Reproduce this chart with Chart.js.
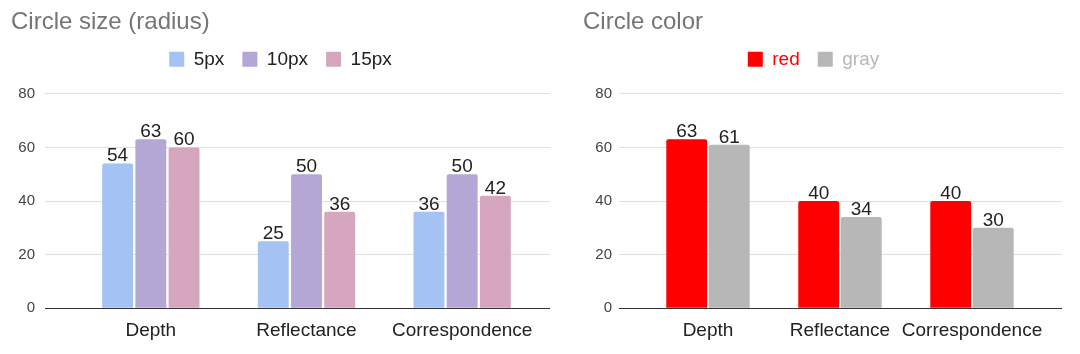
<!DOCTYPE html>
<html>
<head>
<meta charset="utf-8">
<script src="https://cdn.jsdelivr.net/npm/chart.js@4/dist/chart.umd.min.js"></script>
<style>
  body { margin: 0; background: #fff; }
  #wrap { position: relative; width: 1080px; height: 354px; }
  canvas { position: absolute; top: 0; }
  #sizeChart { left: 0; }
  #colorChart { left: 560px; }
</style>
</head>
<body>
<div id="wrap">
  <canvas id="sizeChart" width="560" height="354"></canvas>
  <canvas id="colorChart" width="520" height="354"></canvas>
</div>
<script>
const categories = ['Depth', 'Reflectance', 'Correspondence'];
const yTicks = [0, 20, 40, 60, 80];

// left chart: circle radius
const sizeLabels = ['5px', '10px', '15px'];
const sizeColors = ['#a4c2f4', '#b4a7d6', '#d5a6bd'];
const size5 = [54, 25, 36];
const size10 = [63, 50, 50];
const size15 = [60, 36, 42];

// right chart: circle colour
const colorLabels = ['red', 'gray'];
const colorColors = ['#ff0000', '#b7b7b7'];
const colorRed = [63, 40, 40];
const colorGray = [61, 34, 30];

Chart.defaults.font.family = '"Liberation Sans", Arial, Helvetica, sans-serif';

const gridColor = ctx => (ctx.tick && ctx.tick.value === 0) ? '#333333' : '#e0e0e0';

// numbers drawn on top of every bar
const barValueLabels = {
  id: 'barValueLabels',
  afterDatasetsDraw(chart) {
    const ctx = chart.ctx;
    ctx.save();
    ctx.font = '19px "Liberation Sans", Arial, sans-serif';
    ctx.fillStyle = '#222';
    ctx.textAlign = 'center';
    ctx.textBaseline = 'alphabetic';
    chart.data.datasets.forEach((ds, i) => {
      chart.getDatasetMeta(i).data.forEach((bar, j) => {
        ctx.fillText(ds.data[j], bar.x, bar.y - 2);
      });
    });
    ctx.restore();
  }
};

// extra room under the legend, and optional sideways nudge
const legendSpacing = {
  id: 'legendSpacing',
  beforeInit(chart, args, opts) {
    const fit = chart.legend.fit;
    chart.legend.fit = function () {
      fit.call(this);
      this.height += opts.extra || 0;
    };
  },
  afterLayout(chart, args, opts) {
    if (opts.shift) {
      chart.legend.left += opts.shift;
      chart.legend.right += opts.shift;
    }
  }
};

function makeChart(id, title, labels, series, colors, o) {
  const datasets = series.map((data, i) => ({
    label: labels[i],
    data: data,
    backgroundColor: colors[i],
    borderWidth: 0,
    borderRadius: { topLeft: 2, topRight: 2 },
    categoryPercentage: o.cp,
    barPercentage: o.bp
  }));
  const yMin = yTicks[0], yMax = yTicks[yTicks.length - 1], step = yTicks[1] - yTicks[0];
  return new Chart(document.getElementById(id), {
    type: 'bar',
    data: { labels: categories, datasets: datasets },
    options: {
      responsive: false,
      animation: false,
      devicePixelRatio: 1,
      layout: { padding: { left: o.padLeft, right: o.padRight, top: 0, bottom: 1 } },
      plugins: {
        title: {
          display: true,
          text: title,
          align: 'start',
          color: '#757575',
          font: { size: 24, weight: 'normal' },
          padding: { top: 8, bottom: -5 }
        },
        legend: {
          position: 'top',
          labels: {
            boxWidth: 15,
            boxHeight: 15,
            padding: 18,
            color: '#222',
            font: { size: 19 },
            generateLabels(chart) {
              const items = Chart.defaults.plugins.legend.labels.generateLabels(chart);
              if (o.coloredLegend) items.forEach(it => { it.fontColor = it.fillStyle; });
              return items;
            }
          }
        },
        legendSpacing: { extra: 15, shift: o.legendShift },
        tooltip: { enabled: false }
      },
      scales: {
        x: {
          grid: { display: false, drawTicks: false },
          border: { display: false },
          ticks: { color: '#222', font: { size: 19 }, padding: 11, maxRotation: 0, autoSkip: false }
        },
        y: {
          min: yMin, max: yMax,
          ticks: { stepSize: step, color: '#444', font: { size: 15 }, padding: o.tickPad },
          grid: { color: gridColor, tickLength: o.leftTick },
          border: { display: false },
          afterFit(scale) { scale.width = o.yWidth; }
        },
        y2: {
          position: 'right',
          min: yMin, max: yMax,
          ticks: { display: false, stepSize: step },
          grid: { drawOnChartArea: false, color: gridColor, tickLength: o.rightTick },
          border: { display: false }
        }
      }
    },
    plugins: [barValueLabels, legendSpacing]
  });
}

makeChart('sizeChart', 'Circle size (radius)', sizeLabels, [size5, size10, size15], sizeColors, {
  cp: 0.64, bp: 0.93, padLeft: 11, padRight: 10, yWidth: 62, leftTick: 28, tickPad: 10,
  rightTick: 10, legendShift: 0, coloredLegend: false
});

makeChart('colorChart', 'Circle color', colorLabels, [colorRed, colorGray], colorColors, {
  cp: 0.645, bp: 0.96, padLeft: 23, padRight: 18, yWidth: 59, leftTick: 23, tickPad: 7,
  rightTick: 24, legendShift: -9, coloredLegend: true
});
</script>
</body>
</html>
